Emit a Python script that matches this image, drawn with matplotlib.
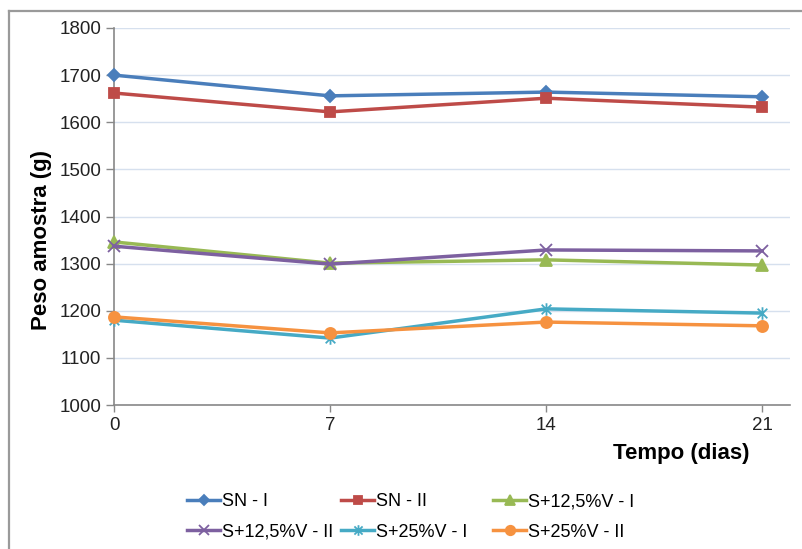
import matplotlib
matplotlib.use("Agg")
import matplotlib.pyplot as plt
from matplotlib.path import Path
from matplotlib.lines import Line2D

plt.rcParams['font.family'] = ['Liberation Sans', 'DejaVu Sans']

days = [0, 7, 14, 21]
series_names = ["SN - I", "SN - II", "S+12,5%V - I", "S+12,5%V - II", "S+25%V - I", "S+25%V - II"]
sn_i = [1700, 1656, 1664, 1654]
sn_ii = [1662, 1622, 1651, 1632]
s125_i = [1346, 1301, 1308, 1297]
s125_ii = [1337, 1299, 1329, 1327]
s25_i = [1180, 1142, 1204, 1195]
s25_ii = [1187, 1153, 1176, 1168]
yticks = [1000, 1100, 1200, 1300, 1400, 1500, 1600, 1700, 1800]

star = Path([(-1, -1), (1, 1), (-1, 1), (1, -1), (0, -1.3), (0, 1.3)],
            [Path.MOVETO, Path.LINETO, Path.MOVETO, Path.LINETO, Path.MOVETO, Path.LINETO])

styles = [
    ("#4A7EBB", "D", 6),
    ("#BE4B48", "s", 7),
    ("#98B954", "^", 8),
    ("#7D60A0", "x", 8),
    ("#46AAC5", star, 9),
    ("#F69240", "o", 8),
]
data = [sn_i, sn_ii, s125_i, s125_ii, s25_i, s25_ii]

fig = plt.figure(figsize=(8.03, 5.49), dpi=100)
ax = fig.add_axes([114/803, 1 - 405/549, (790 - 114)/803, (405 - 28)/549])

handles = []
for name, vals, (c, m, ms) in zip(series_names, data, styles):
    h, = ax.plot(days, vals, color=c, lw=2.5, marker=m, markersize=ms,
                 markerfacecolor=c, markeredgecolor=c, markeredgewidth=1.3,
                 label=name, clip_on=False, zorder=3)
    handles.append(h)

ax.set_xlim(0, 21.9)
ax.set_ylim(1000, 1800)
ax.set_yticks(yticks)
ax.set_xticks(days)
ax.tick_params(axis='both', labelsize=13.5, colors='#888888', labelcolor='#222222',
               length=6, width=1)
ax.tick_params(axis='y', direction='out', pad=3)
ax.tick_params(axis='x', direction='out', length=5, pad=4)
ax.grid(axis='y', color='#D6E0EE', lw=1)
ax.set_axisbelow(True)
for s in ['top', 'right']:
    ax.spines[s].set_visible(False)
for s in ['left', 'bottom']:
    ax.spines[s].set_color('#888888')
    ax.spines[s].set_linewidth(1.2)

fig.text(42/803, 1 - 240/549, "Peso amostra (g)", fontsize=16, fontweight='bold',
         rotation=90, ha='center', va='center')
fig.text(681/803, 1 - 453/549, "Tempo (dias)", fontsize=16, fontweight='bold',
         ha='center', va='center')

col_x = [187, 341, 493]
for j in range(3):
    hs = [handles[j], handles[j + 3]]
    ls = [series_names[j], series_names[j + 3]]
    leg = fig.legend(hs, ls, loc='center left',
                     bbox_to_anchor=(col_x[j]/803, 1 - 517/549),
                     borderaxespad=0, borderpad=0, frameon=False, fontsize=13,
                     handlelength=1.85, handletextpad=0.1, labelspacing=0.75,
                     markerscale=0.85)

# outer frame
fig.add_artist(Line2D([9/803, 9/803], [0, 1 - 11/549], color='#9A9A9A', lw=1.6))
fig.add_artist(Line2D([9/803, 1], [1 - 11/549, 1 - 11/549], color='#9A9A9A', lw=1.6))

fig.savefig("out.png", dpi=100)
